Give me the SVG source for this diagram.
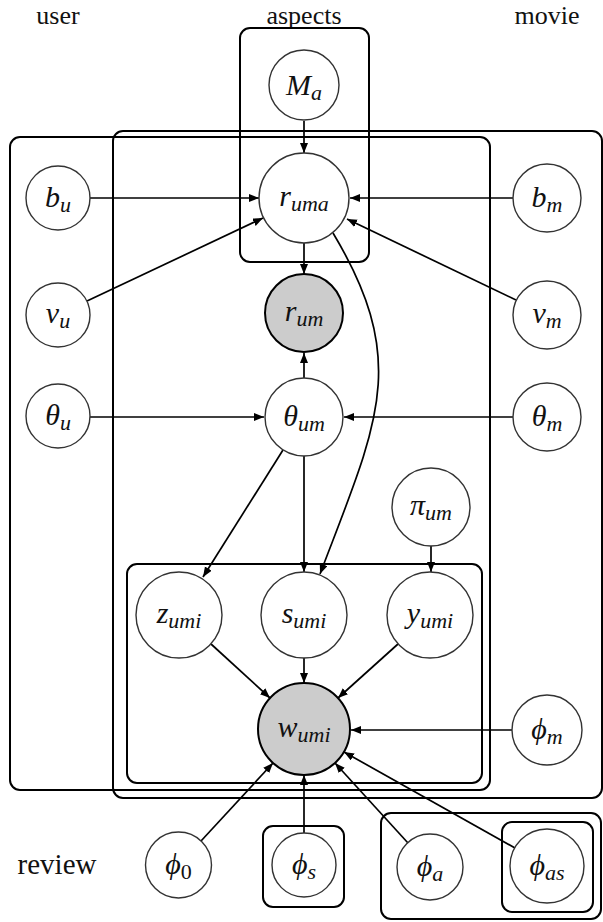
<svg xmlns="http://www.w3.org/2000/svg" width="603" height="922" viewBox="0 0 603 922">
<style>
.plate{fill:none;stroke:#000;stroke-width:2}
.node{fill:#fff;stroke:#333;stroke-width:1.4}
.obs{fill:#ccc;stroke:#000;stroke-width:2}
.edge{fill:none;stroke:#000;stroke-width:1.7;marker-end:url(#arr)}
.lbl{font-family:"Liberation Serif","DejaVu Serif",serif;font-size:26px;fill:#111;text-anchor:middle}
.big{font-size:29px}
.m{font-family:"Liberation Serif","DejaVu Serif",serif;font-style:italic;font-size:30px;fill:#111;text-anchor:middle}
.s{font-size:22px}
.sr{font-size:22px;font-style:normal}
</style>
<defs>
<marker id="arr" markerUnits="userSpaceOnUse" markerWidth="11" markerHeight="9" refX="10" refY="4" orient="auto">
<path d="M0,0 L10,4 L0,8 Z" fill="#000"/>
</marker>
</defs>
<g id="labels">
<text class="lbl" x="58" y="24">user</text>
<text class="lbl" x="304" y="24">aspects</text>
<text class="lbl" x="547" y="24">movie</text>
<text class="lbl big" x="57" y="874">review</text>
</g>
<g id="plates">
<rect id="plate-aspects" class="plate" x="240" y="28" width="129" height="234" rx="10"/>
<rect id="plate-user" class="plate" x="10" y="137" width="480" height="653" rx="10"/>
<rect id="plate-movie" class="plate" x="113" y="131" width="489" height="667" rx="10"/>
<rect id="plate-review" class="plate" x="127" y="564" width="355" height="219" rx="10"/>
<rect id="plate-phis" class="plate" x="263" y="826" width="81" height="81" rx="10"/>
<rect id="plate-aspects2" class="plate" x="381" y="813" width="220" height="106" rx="10"/>
<rect id="plate-phias" class="plate" x="502" y="822" width="91" height="90" rx="10"/>
</g>
<g id="connectors">
<line class="edge" x1="304" y1="121" x2="304" y2="153"/>
<line class="edge" x1="90" y1="198" x2="259" y2="198"/>
<line class="edge" x1="513" y1="198" x2="350" y2="198"/>
<line class="edge" x1="87" y1="301" x2="263" y2="218"/>
<line class="edge" x1="516" y1="300" x2="347" y2="219"/>
<line class="edge" x1="304" y1="243" x2="304" y2="274"/>
<line class="edge" x1="304" y1="378" x2="304" y2="353"/>
<line class="edge" x1="90" y1="417" x2="264" y2="417"/>
<line class="edge" x1="513" y1="417" x2="344" y2="417"/>
<line class="edge" x1="283" y1="450" x2="203" y2="577"/>
<line class="edge" x1="304" y1="456" x2="304" y2="572"/>
<path class="edge" d="M333,233 C411,363 377,424 320,574"/>
<line class="edge" x1="431" y1="546" x2="431" y2="572"/>
<line class="edge" x1="211" y1="644" x2="270" y2="698"/>
<line class="edge" x1="304" y1="658" x2="304" y2="683"/>
<line class="edge" x1="398" y1="644" x2="338" y2="698"/>
<line class="edge" x1="512" y1="730" x2="351" y2="730"/>
<line class="edge" x1="201" y1="841" x2="273" y2="763"/>
<line class="edge" x1="304" y1="833" x2="304" y2="775"/>
<line class="edge" x1="408" y1="843" x2="335" y2="763"/>
<line class="edge" x1="515" y1="848" x2="344" y2="752"/>
</g>
<g id="n-Ma"><circle class="node" cx="304" cy="85" r="35"/><text class="m" x="304" y="95">M<tspan class="s" dy="5">a</tspan></text></g>
<g id="n-ruma"><circle class="node" cx="304" cy="198" r="45"/><text class="m" x="304" y="206">r<tspan class="s" dy="5">uma</tspan></text></g>
<g id="n-rum"><circle class="obs" cx="304" cy="313" r="39"/><text class="m" x="304" y="321">r<tspan class="s" dy="5">um</tspan></text></g>
<g id="n-thetaum"><circle class="node" cx="304" cy="417" r="39"/><text class="m" x="304" y="426">θ<tspan class="s" dy="5">um</tspan></text></g>
<g id="n-bu"><circle class="node" cx="58" cy="198" r="32"/><text class="m" x="58" y="207">b<tspan class="s" dy="5">u</tspan></text></g>
<g id="n-vu"><circle class="node" cx="58" cy="315" r="32"/><text class="m" x="58" y="323">v<tspan class="s" dy="5">u</tspan></text></g>
<g id="n-thetau"><circle class="node" cx="58" cy="416" r="32"/><text class="m" x="58" y="425">θ<tspan class="s" dy="5">u</tspan></text></g>
<g id="n-bm"><circle class="node" cx="547" cy="198" r="34"/><text class="m" x="547" y="207">b<tspan class="s" dy="5">m</tspan></text></g>
<g id="n-vm"><circle class="node" cx="547" cy="315" r="34"/><text class="m" x="547" y="323">v<tspan class="s" dy="5">m</tspan></text></g>
<g id="n-thetam"><circle class="node" cx="547" cy="417" r="34"/><text class="m" x="547" y="426">θ<tspan class="s" dy="5">m</tspan></text></g>
<g id="n-pium"><circle class="node" cx="431" cy="507" r="39"/><text class="m" x="431" y="515">π<tspan class="s" dy="5">um</tspan></text></g>
<g id="n-zumi"><circle class="node" cx="179" cy="615" r="43"/><text class="m" x="179" y="623">z<tspan class="s" dy="5">umi</tspan></text></g>
<g id="n-sumi"><circle class="node" cx="304" cy="615" r="43"/><text class="m" x="304" y="623">s<tspan class="s" dy="5">umi</tspan></text></g>
<g id="n-yumi"><circle class="node" cx="430" cy="615" r="43"/><text class="m" x="430" y="623">y<tspan class="s" dy="5">umi</tspan></text></g>
<g id="n-wumi"><circle class="obs" cx="304" cy="729" r="46"/><text class="m" x="304" y="737">w<tspan class="s" dy="5">umi</tspan></text></g>
<g id="n-phim"><circle class="node" cx="547" cy="730" r="35"/><text class="m" x="547" y="739">ϕ<tspan class="s" dy="5">m</tspan></text></g>
<g id="n-phi0"><circle class="node" cx="178.5" cy="865" r="33"/><text class="m" x="178.5" y="874">ϕ<tspan class="sr" dy="5">0</tspan></text></g>
<g id="n-phis"><circle class="node" cx="304" cy="865" r="32"/><text class="m" x="304" y="874">ϕ<tspan class="s" dy="5">s</tspan></text></g>
<g id="n-phia"><circle class="node" cx="430" cy="867" r="33"/><text class="m" x="430" y="876">ϕ<tspan class="s" dy="5">a</tspan></text></g>
<g id="n-phias"><circle class="node" cx="547" cy="866" r="37"/><text class="m" x="547" y="875">ϕ<tspan class="s" dy="5">as</tspan></text></g>
</svg>
